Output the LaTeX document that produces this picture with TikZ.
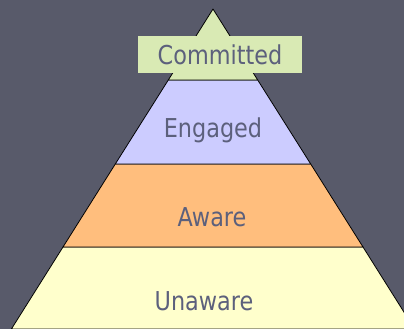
\documentclass[tikz,border=0pt]{standalone}
\usepackage{fontspec}
\usepackage{xcolor}
\usepackage{tikz}
\setmainfont{DejaVu Sans}[FakeStretch=0.86]

\definecolor{slidebg}{RGB}{88,90,106}
\definecolor{labelgray}{RGB}{92,96,124}
\definecolor{committedgreen}{RGB}{217,234,180}
\definecolor{engagedblue}{RGB}{204,204,255}
\definecolor{awareorange}{RGB}{255,190,125}
\definecolor{unawareyellow}{RGB}{255,255,204}

\begin{document}
\begin{tikzpicture}[
    x=1pt, y=-1pt,
    band/.style={draw=black, line width=0.8pt, line join=round},
    label/.style={text=labelgray, font=\fontsize{26}{28}\selectfont, inner sep=0pt},
    topbox/.style={label, rectangle, fill=committedgreen, minimum width=164pt, minimum height=37pt}
]

% background
\fill[slidebg] (0,0) rectangle (404,329);
\useasboundingbox (0,0) rectangle (404,329);
\clip (0,0) rectangle (404,329);

% pyramid corners
\coordinate (apex) at (213,9);
\coordinate (l1) at (168.3,80);  \coordinate (r1) at (257.7,80);
\coordinate (l2) at (115.3,164); \coordinate (r2) at (310.7,164);
\coordinate (l3) at (63,247);    \coordinate (r3) at (363,247);
\coordinate (l4) at (11.4,329);  \coordinate (r4) at (414.6,329);

% bands
\filldraw[band, fill=unawareyellow] (l3) -- (r3) -- (r4) -- (l4) -- cycle;
\filldraw[band, fill=awareorange] (l2) -- (r2) -- (r3) -- (l3) -- cycle;
\filldraw[band, fill=engagedblue] (l1) -- (r1) -- (r2) -- (l2) -- cycle;
\filldraw[band, fill=committedgreen] (apex) -- (r1) -- (l1) -- cycle;

% labels
\node[topbox] (committed) at (220,54.5) {Committed};
\node[label] (engaged) at (213,130) {Engaged};
\node[label] (aware) at (212,217) {Aware};
\node[label] (unaware) at (204,301) {Unaware};

\end{tikzpicture}
\end{document}
